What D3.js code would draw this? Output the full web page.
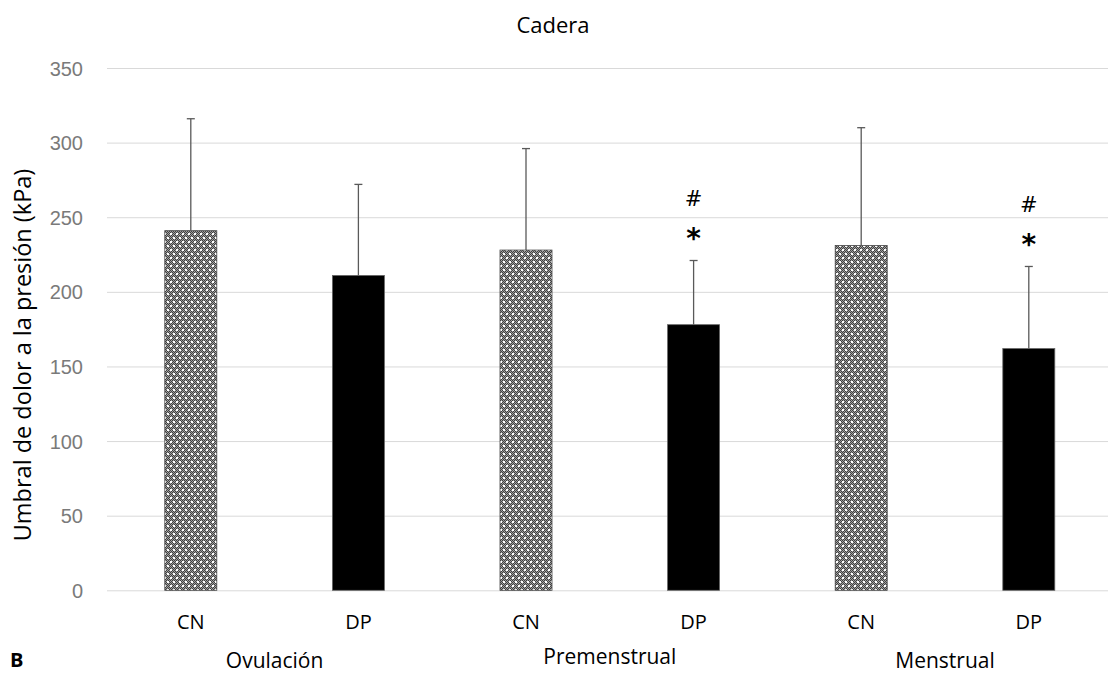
<!DOCTYPE html>
<html>
<head>
<meta charset="utf-8">
<script src="https://cdn.jsdelivr.net/npm/d3@7"></script>
<style>
  html, body { margin: 0; padding: 0; background: #fff; }
  svg { display: block; font-family: "Open Sans", "Noto Sans", sans-serif; }
</style>
</head>
<body>
<svg id="chart" width="1108" height="675"></svg>
<script>
// ---- data ----
const phases = ["Ovulación", "Premenstrual", "Menstrual"];
const groups = ["CN", "DP", "CN", "DP", "CN", "DP"];
const means = [241, 211, 228, 178, 231, 162];
const errors = [75, 61, 68, 43, 79, 55];
const marks = [[], [], [], ["#", "*"], [], ["#", "*"]];
const yTicks = [0, 50, 100, 150, 200, 250, 300, 350];
const title = "Cadera";
const yTitle = "Umbral de dolor a la presión (kPa)";
const panelLabel = "B";

// ---- layout ----
const svg = d3.select("#chart");
const plotLeft = 107, plotRight = 1112.6, plotTop = 68, plotBottom = 590.3;

const x = d3.scaleBand().domain(d3.range(groups.length)).range([plotLeft, plotRight]).paddingInner(0).paddingOuter(0);
const y = d3.scaleLinear().domain([0, 350]).range([plotBottom, plotTop]);
const barW = 52;

// pattern for CN bars
const defs = svg.append("defs");
const pat = defs.append("pattern").attr("id", "dots").attr("patternUnits", "userSpaceOnUse")
  .attr("width", 6).attr("height", 8);
pat.append("rect").attr("width", 6).attr("height", 8).attr("fill", "#a0a0a0");
for (let i = 0; i < 6; i++) {
  for (let j = 0; j < 8; j++) {
    if ((i + j) % 2 === 0) pat.append("rect").attr("x", i).attr("y", j).attr("width", 1).attr("height", 1).attr("fill", "#404040");
  }
}
pat.append("rect").attr("x", 2).attr("y", 1).attr("width", 2).attr("height", 2).attr("fill", "#ffffff");
pat.append("rect").attr("x", 5).attr("y", 5).attr("width", 1).attr("height", 2).attr("fill", "#ffffff");
pat.append("rect").attr("x", 0).attr("y", 5).attr("width", 1).attr("height", 2).attr("fill", "#ffffff");

// gridlines
const yAxis = d3.axisLeft(y).tickValues(yTicks).tickSize(-(plotRight - plotLeft)).tickPadding(24);
const gAxis = svg.append("g").attr("transform", `translate(${plotLeft},0)`).call(yAxis);
gAxis.select(".domain").remove();
gAxis.selectAll(".tick line").attr("stroke", "#d9d9d9").attr("stroke-width", 1);
gAxis.selectAll(".tick text").attr("fill", "#7a7a7a").attr("font-size", 20).attr("dy", "0.35em");

// bars
svg.append("g").selectAll("rect").data(means).join("rect")
  .attr("x", (d, i) => x(i) + x.bandwidth() / 2 - barW / 2)
  .attr("y", d => y(d))
  .attr("width", barW)
  .attr("height", d => y(0) - y(d))
  .attr("fill", (d, i) => groups[i] === "CN" ? "url(#dots)" : "#000")
  .attr("stroke", (d, i) => groups[i] === "CN" ? "#444" : "#666")
  .attr("stroke-width", 0.8);

// error bars
const eg = svg.append("g").attr("stroke", "#595959").attr("stroke-width", 1.3);
means.forEach((m, i) => {
  const cx = x(i) + x.bandwidth() / 2;
  eg.append("line").attr("x1", cx).attr("x2", cx).attr("y1", y(m)).attr("y2", y(m + errors[i]));
  eg.append("line").attr("x1", cx - 4).attr("x2", cx + 4).attr("y1", y(m + errors[i])).attr("y2", y(m + errors[i]));
});

// significance marks
means.forEach((m, i) => {
  const cx = x(i) + x.bandwidth() / 2;
  const yt = y(m + errors[i]);
  marks[i].forEach((s, k) => {
    svg.append("text").attr("x", cx).attr("y", yt - (k === 0 ? 62 : 32))
      .attr("text-anchor", "middle").attr("dy", s === "*" ? "0.7em" : "0.35em")
      .attr("font-size", s === "*" ? 28 : 21).attr("fill", "#000")
      .attr("font-weight", s === "*" ? "bold" : "normal")
      .attr("font-family", "DejaVu Sans")
      .text(s);
  });
});

// category labels
svg.append("g").selectAll("text").data(groups).join("text")
  .attr("x", (d, i) => x(i) + x.bandwidth() / 2)
  .attr("y", 622).attr("dy", "0.35em")
  .attr("text-anchor", "middle").attr("font-size", 20).attr("fill", "#000")
  .text(d => d);

// phase labels
svg.append("g").selectAll("text").data(phases).join("text")
  .attr("x", (d, i) => (x(2 * i) + x(2 * i + 1) + x.bandwidth()) / 2)
  .attr("y", (d, i) => i === 1 ? 657 : 661).attr("dy", "0.35em")
  .attr("text-anchor", "middle").attr("font-size", 21).attr("fill", "#000")
  .text(d => d);

// title
svg.append("text").attr("x", 553).attr("y", 25).attr("dy", "0.35em")
  .attr("text-anchor", "middle").attr("font-size", 22).attr("fill", "#000").text(title);

// y title
svg.append("text").attr("transform", `translate(23,355) rotate(-90)`)
  .attr("dy", "0.35em").attr("text-anchor", "middle").attr("font-size", 23.5).attr("fill", "#000")
  .text(yTitle);

// panel label
svg.append("text").attr("x", 10).attr("y", 660).attr("dy", "0.35em")
  .attr("font-size", 20).attr("font-weight", "bold").attr("fill", "#000").text(panelLabel);
</script>
</body>
</html>
